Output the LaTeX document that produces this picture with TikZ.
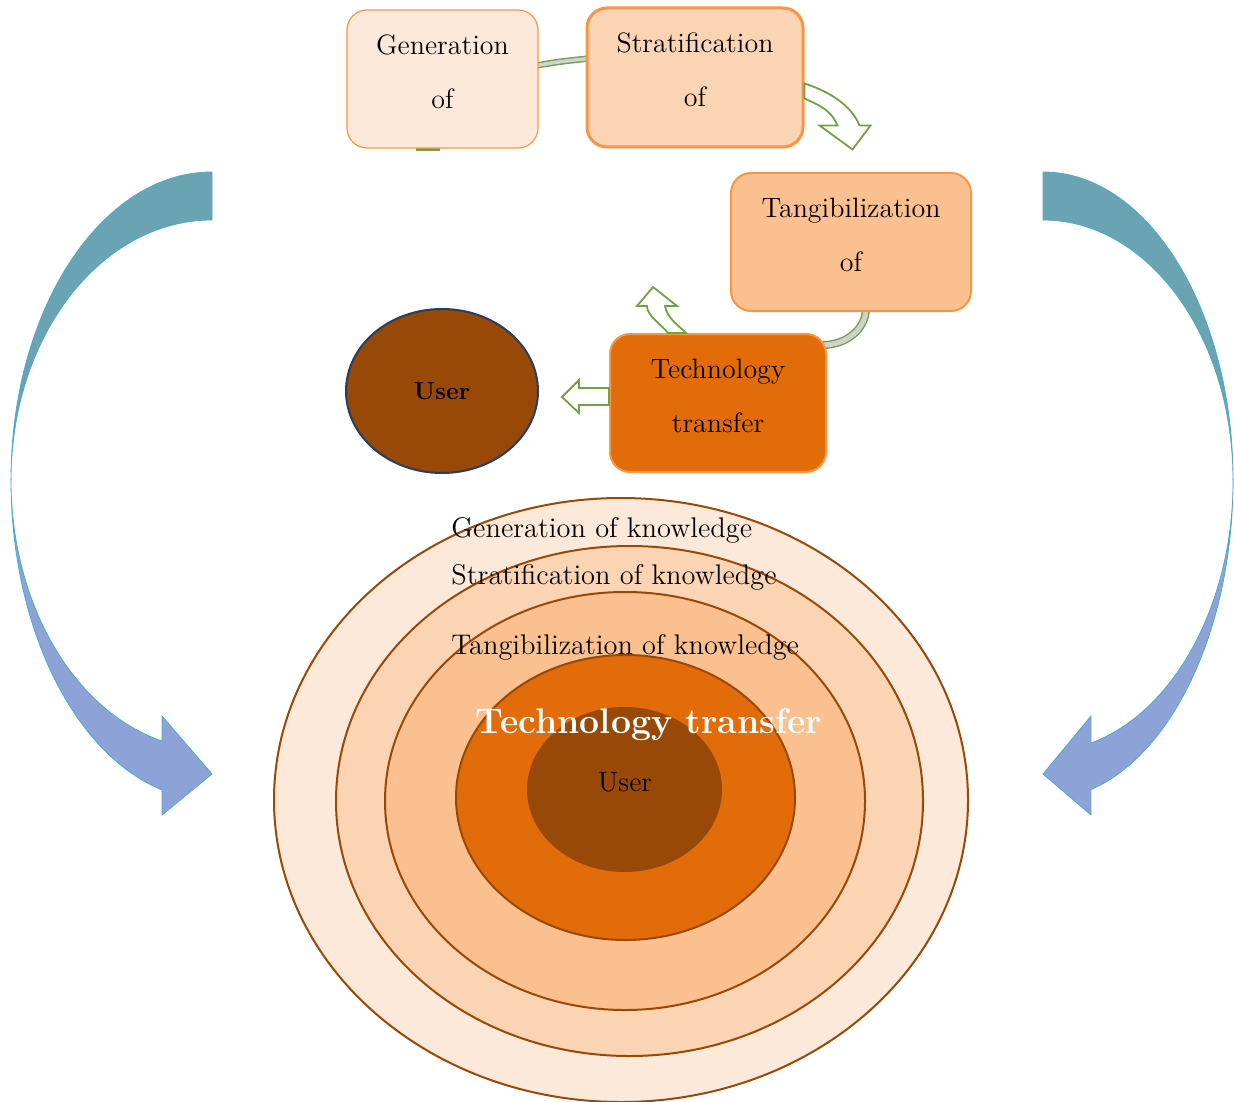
\documentclass[tikz,border=0pt]{standalone}
\usepackage{xcolor}
\usepackage{tikz}
\usetikzlibrary{shapes,arrows,positioning,calc,backgrounds}

\definecolor{paleorange}{HTML}{FDE9D9}
\definecolor{lightorange}{HTML}{FBD4B4}
\definecolor{midorange}{HTML}{FAC090}
\definecolor{deeporange}{HTML}{E36C0A}
\definecolor{rustbrown}{HTML}{984807}
\definecolor{edgeorange}{HTML}{F79646}
\definecolor{navyedge}{HTML}{243F60}
\definecolor{leafgreen}{HTML}{71A047}
\definecolor{bandgray}{HTML}{D0D0D0}
\definecolor{tealband}{HTML}{6AA3B1}
\definecolor{periwinkle}{HTML}{8DA3D8}
\definecolor{cyanedge}{HTML}{4BACC6}

\begin{document}
\begin{tikzpicture}[
    x=0.5pt, y=-0.5pt,
    every node/.style={font=\fontsize{14}{27}\selectfont},
    stage/.style={draw=edgeorange, rounded corners=10pt, align=center, inner sep=0pt,
        minimum height=69pt, text depth=7.5pt},
    hollow/.style={draw=leafgreen, line width=0.9pt, fill=white, line join=miter},
    band/.style={draw=leafgreen, line width=0.7pt, double=bandgray, double distance=1.8pt},
    ring/.style={draw=rustbrown, line width=1pt},
    bigarrow/.style={draw=cyanedge, line width=0.4pt},
    layer/.style={anchor=base west, inner sep=0pt, font=\fontsize{14.2}{17}\selectfont}
]
\useasboundingbox (0,0) rectangle (1234,1101);

% big curved arrows
\filldraw[bigarrow, fill=tealband] (212,172) arc[start angle=270, end angle=180, x radius=201, y radius=308]
    arc[start angle=180, end angle=270, x radius=201, y radius=260] -- cycle;
\filldraw[bigarrow, fill=periwinkle] (11,480) arc[start angle=180, end angle=104.4, x radius=201, y radius=320]
    -- (162,815) -- (212,774) -- (162,716) -- (162,741)
    arc[start angle=104.4, end angle=180, x radius=201, y radius=269.5] -- cycle;
\filldraw[bigarrow, fill=tealband] (1043,172) arc[start angle=270, end angle=360, x radius=190, y radius=308]
    arc[start angle=0, end angle=-90, x radius=190, y radius=260] -- cycle;
\filldraw[bigarrow, fill=periwinkle] (1233,480) arc[start angle=0, end angle=75.4, x radius=190, y radius=320]
    -- (1091,815) -- (1043,774) -- (1091,716) -- (1091,743)
    arc[start angle=75.4, end angle=0, x radius=190, y radius=272] -- cycle;

% concentric layers
\draw[ring, fill=paleorange] (621,800) ellipse [x radius=347, y radius=302];
\draw[ring, fill=lightorange] (629.5,801) ellipse [x radius=293.5, y radius=255];
\draw[ring, fill=midorange] (625,801) ellipse [x radius=240, y radius=209];
\draw[ring, fill=deeporange] (625.5,797.5) ellipse [x radius=169.5, y radius=142.5];
\fill[rustbrown] (624.5,789.5) ellipse [x radius=97.5, y radius=82.5];

\node[layer] (genlayer) at (451,537) {Generation of knowledge};
\node[layer] (stratlayer) at (451,584) {Stratification of knowledge};
\node[layer] (tanglayer) at (451,654) {Tangibilization of knowledge};
\node[anchor=base, inner sep=0pt, text=white, font=\fontsize{17.8}{20}\bfseries\selectfont] (techlayer) at (649,733) {Technology transfer};
\node[anchor=base, inner sep=0pt] (userlayer) at (625,791) {User};

% process boxes
\node[stage, fill=paleorange, line width=0.6pt, minimum width=95.5pt] (gen) at (442.5,79) {Generation\\of};
\node[stage, fill=lightorange, line width=1.5pt, minimum width=108pt, minimum height=69.5pt] (strat) at (695,77.5) {Stratification\\of};
\node[stage, fill=midorange, line width=1pt, minimum width=120pt] (tang) at (851,242) {Tangibilization\\of};
\node[stage, fill=deeporange, line width=1pt, minimum width=108pt] (tech) at (718,403) {Technology\\transfer};
\node[ellipse, draw=navyedge, fill=rustbrown, line width=1pt, minimum width=96pt, minimum height=82pt,
    font=\fontsize{12.3}{14}\selectfont\bfseries] (user) at (442,391) {User};

% connectors
\begin{scope}[on background layer]
\fill[leafgreen] ($(gen.south)+(-27,-4)$) rectangle ++(24,6);
\draw[band] ($(gen.east)+(-4,-13)$) .. controls +(20,-4) and +(-20,2) .. ($(strat.west)+(4,-19)$);
\draw[band, double distance=2.6pt] ($(tang.south)+(15,-4)$) .. controls +(0,22) and +(22,0) .. ($(tech.north east)+(-4,12)$);
\end{scope}
\draw[hollow] ($(strat.east)+(0,6)$) .. controls +(25,8) and +(-8,-20) .. ++(55,42)
    -- ++(11,0) -- ++(-18,24) -- ++(-33,-24) -- ++(18,0)
    .. controls +(-6,-14) and +(18,8) .. ($(strat.east)+(0,21)$) -- cycle;
\draw[hollow] ($(tech.north)+(-32,0)$) .. controls +(-8,-8) and +(2,12) .. ++(-21,-27)
    -- ++(12,0) -- ++(-24,-19) -- ++(-16,19) -- ++(10,0)
    .. controls +(0,10) and +(-6,-8) .. ($(tech.north)+(-50,0)$) -- cycle;
\draw[hollow] ($(tech.west)+(0,-15)$) -- ++(-30,0) -- ++(0,-8) -- ++(-17,17) -- ++(17,16) -- ++(0,-8) -- ++(30,0) -- cycle;
\end{tikzpicture}
\end{document}
